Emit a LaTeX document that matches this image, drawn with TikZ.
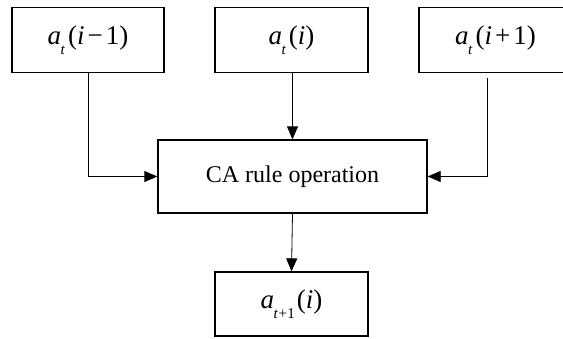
\documentclass[tikz,border=0pt]{standalone}
\usepackage{fontspec}
\setmainfont{Liberation Serif}
\usetikzlibrary{arrows.meta}
\tikzset{
  box/.style={draw, line width=1.3pt, minimum height=65pt, inner sep=0pt, font=\fontsize{27}{30}\selectfont},
  conn/.style={line width=0.8pt, -{Triangle[length=13pt,width=11pt]}},
}
\newcommand{\sub}[1]{\raisebox{-0.35em}{\fontsize{15}{18}\selectfont #1}}
\begin{document}
\begin{tikzpicture}[x=1pt,y=-1pt]
\useasboundingbox (0,0) rectangle (563,338);
\clip (0,0) rectangle (563,338);
\node[box, minimum width=152pt] (b1) at (88,40) {\textit{a}\kern-0.5pt\sub{\textit{t}}\kern3pt(\textit{i}\kern3pt−\kern3pt1)};
\node[box, minimum width=153pt] (b2) at (291.5,40) {\textit{a}\kern-0.5pt\sub{\textit{t}}\kern3pt(\textit{i})};
\node[box, minimum width=153pt] (b3) at (495.5,40) {\textit{a}\kern-0.5pt\sub{\textit{t}}\kern3pt(\textit{i}\kern3pt+\kern3pt1)};
\node[box, minimum width=269pt, minimum height=73pt, font=\fontsize{24}{28}\selectfont] (ca) at (292.5,176.5) {CA rule operation};
\node[box, minimum width=153pt, minimum height=64pt] (out) at (291.5,304) {\textit{a}\kern-0.5pt\sub{\textit{t}\kern0.5pt+\kern0.5pt1}\kern2pt(\textit{i})};
\coordinate (r0) at (487,78);
\draw[conn] (b1.south -| 88,0) |- (ca.west);
\draw[conn] (r0) |- (ca.east);
\draw[conn] (b2.south -| ca.north) -- (ca.north);
\draw[conn] (ca.south) -- (out.north);
\end{tikzpicture}
\end{document}
